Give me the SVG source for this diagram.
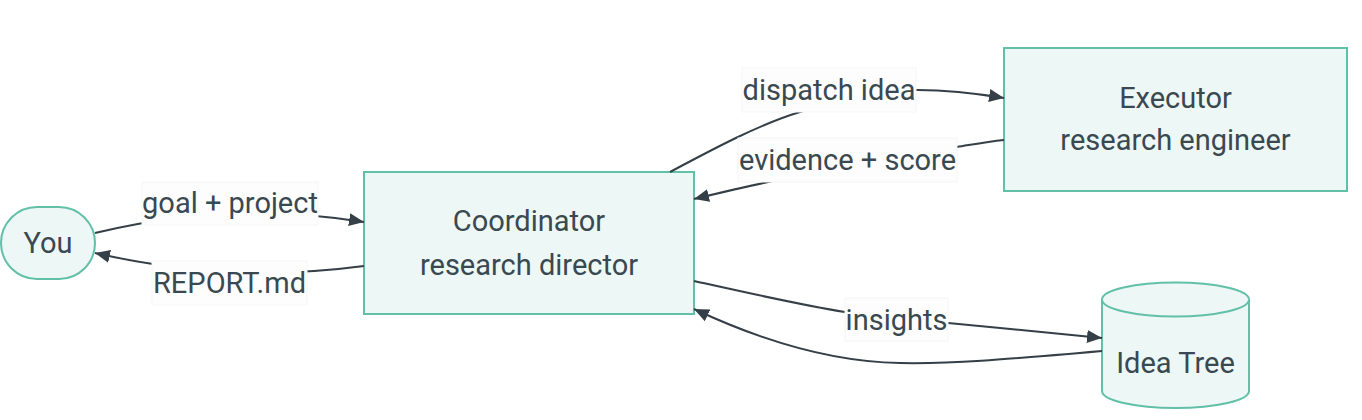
<svg xmlns="http://www.w3.org/2000/svg" width="1362" height="420" viewBox="0 0 1362 420">
<style>
.node{fill:#edf7f5;stroke:#62c0a8;stroke-width:2}
.txt{font-family:Roboto,"Liberation Sans",sans-serif;font-size:29px;fill:#3a4850;text-anchor:middle}
.edge{fill:none;stroke:#353f47;stroke-width:2}
.lbl{fill:#fdfdfd;stroke:#f5f5f5;stroke-width:1}
</style>
<defs>
<marker id="arr" markerUnits="userSpaceOnUse" markerWidth="15" markerHeight="14" refX="15" refY="7" orient="auto">
<path d="M0,0.5 L15,7 L0,13.5 z" fill="#353f47"/>
</marker>
</defs>
<rect width="1362" height="420" fill="#ffffff"/>
<g id="node-you">
<rect class="node" x="1" y="207" width="94" height="72" rx="36" ry="36"/>
<text class="txt" x="48" y="253">You</text>
</g>
<g id="node-coordinator">
<rect class="node" x="364" y="172" width="330" height="142"/>
<text class="txt" x="529" y="231">Coordinator</text>
<text class="txt" x="529" y="275">research director</text>
</g>
<g id="node-executor">
<rect class="node" x="1004" y="48" width="343" height="143"/>
<text class="txt" x="1175.5" y="108">Executor</text>
<text class="txt" x="1175.5" y="150">research engineer</text>
</g>
<g id="node-ideatree">
<path class="node" d="M1102,299.5 A73.5,17 0 0 1 1249,299.5 L1249,391 A73.5,17 0 0 1 1102,391 Z"/>
<path class="node" d="M1102,299.5 A73.5,17 0 0 0 1249,299.5" fill="none"/>
<text class="txt" x="1175.5" y="373">Idea Tree</text>
</g>
<g id="connectors">
<path class="edge" marker-end="url(#arr)" d="M95,233 Q230,200 364,222"/>
<path class="edge" marker-end="url(#arr)" d="M364,266 Q230,284 95,253"/>
<path class="edge" marker-end="url(#arr)" d="M670,172 C715,148 760,124 800,112 C840,100 870,90 917,90 C950,90 980,94 1004,98"/>
<path class="edge" marker-end="url(#arr)" d="M1004,140 C985,142 970,145 957,147 C900,155 830,168 768,182 C740,188 715,194 694,199"/>
<path class="edge" marker-end="url(#arr)" d="M694,281 C740,291 800,305 845,312 C880,318 915,322 948,323 C1000,328 1060,334 1102,338"/>
<path class="edge" marker-end="url(#arr)" d="M1102,351 C1000,360 950,364 900,363 C830,362 760,340 694,309"/>
<rect class="lbl" x="142" y="182" width="176" height="43"/>
<text class="txt" x="230" y="213">goal + project</text>
<rect class="lbl" x="152" y="261" width="155" height="44"/>
<text class="txt" x="229.5" y="293">REPORT.md</text>
<rect class="lbl" x="742" y="68" width="174" height="44"/>
<text class="txt" x="829" y="100">dispatch idea</text>
<rect class="lbl" x="738" y="138" width="219" height="44"/>
<text class="txt" x="847.5" y="170">evidence + score</text>
<rect class="lbl" x="845" y="298" width="103" height="43"/>
<text class="txt" x="896.5" y="330">insights</text>
</g>
</svg>
